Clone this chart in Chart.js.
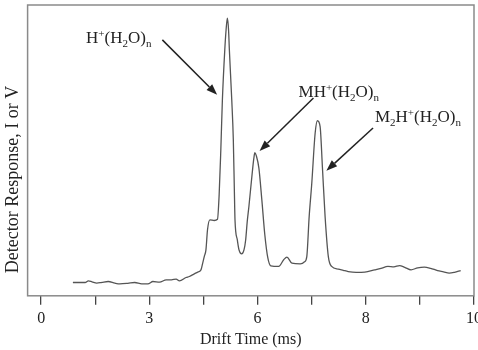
<!DOCTYPE html>
<html>
<head>
<meta charset="utf-8">
<script src="https://cdn.jsdelivr.net/npm/chart.js@4/dist/chart.umd.min.js"></script>
<style>
html, body { margin: 0; padding: 0; background: #fff; }
#wrap { width: 478px; height: 350px; }
</style>
</head>
<body>
<div id="wrap"><canvas id="ims"></canvas></div>
<script>
"use strict";

// 横軸：目盛り1本 = 1単位、ラベルは図のとおり
const xTickValues = [0, 1, 2, 3, 4, 5, 6, 7, 8];
const xTickLabels = ['0', '', '3', '', '6', '', '8', '', '10'];

// スペクトル（x: 目盛り単位, y: フルスケールに対する%）
const driftPos = [
	0.587, 0.813, 0.873, 0.941, 1.028, 1.125, 1.240, 1.363, 1.455, 1.602,
	1.730, 1.859, 1.974, 2.066, 2.189, 2.312, 2.409, 2.495, 2.556, 2.679,
	2.739, 2.831, 2.886, 2.954, 2.983, 3.015, 3.046, 3.075, 3.119, 3.198,
	3.259, 3.290, 3.321, 3.350, 3.394, 3.418, 3.442, 3.464, 3.479, 3.523,
	3.552, 3.571, 3.583, 3.626, 3.657, 3.706, 3.749, 3.780, 3.809, 3.840,
	3.901, 3.932, 3.950, 3.978, 4.024, 4.079, 4.134, 4.189, 4.244, 4.391,
	4.483, 4.543, 4.635, 4.789, 4.868, 4.910, 4.954, 5.002, 5.064, 5.106,
	5.156, 5.198, 5.248, 5.308, 5.369, 5.492, 5.584, 5.675, 5.822, 5.982,
	6.165, 6.281, 6.409, 6.519, 6.624, 6.720, 6.837, 6.959, 7.083, 7.198,
	7.327, 7.437, 7.541, 7.639, 7.754
];
const response = [
	4.57, 4.57, 5.15, 4.81, 4.36, 4.64, 4.91, 4.36, 4.12, 4.30,
	4.57, 4.12, 4.12, 4.91, 4.71, 5.50, 5.50, 5.74, 5.15, 6.29,
	6.63, 7.56, 8.08, 8.93, 11.0, 13.5, 15.8, 22.7, 26.1, 25.9,
	26.3, 34.7, 50.2, 67.4, 84.5, 91.4, 95.5, 91.4, 84.5, 67.4,
	53.6, 36.4, 26.1, 19.2, 15.8, 14.4, 15.8, 19.2, 25.5, 30.7,
	42.2, 47.4, 49.2, 48.1, 44.0, 33.0, 21.0, 13.1, 10.3, 10.1,
	12.4, 13.3, 11.2, 11.0, 11.7, 13.5, 27.3, 38.7, 55.9, 60.2,
	58.2, 44.4, 27.3, 13.5, 10.1, 9.18, 8.76, 8.35, 8.08, 8.14,
	8.93, 9.45, 10.1, 9.97, 10.4, 9.79, 8.93, 9.62, 9.86, 9.45,
	8.69, 8.25, 7.80, 8.08, 8.69
];

// ピークの注記（文字の位置と矢印の始点・終点、データ座標）
const peakText = [
	[{ t: 'H' }, { t: '+', sup: true }, { t: '(H' }, { t: '2', sub: true }, { t: 'O)' }, { t: 'n', sub: true }],
	[{ t: 'MH' }, { t: '+', sup: true }, { t: '(H' }, { t: '2', sub: true }, { t: 'O)' }, { t: 'n', sub: true }],
	[{ t: 'M' }, { t: '2', sub: true }, { t: 'H' }, { t: '+', sup: true }, { t: '(H' }, { t: '2', sub: true }, { t: 'O)' }, { t: 'n', sub: true }]
];
const peakTextPos = [[0.83, 86.9], [4.757, 68.4], [6.17, 59.8]];
const arrowFrom = [[2.24, 88.0], [5.033, 68.0], [6.134, 57.7]];
const arrowTo = [[3.253, 69.1], [4.037, 49.8], [5.272, 43.0]];

const serif = '"Liberation Serif", "DejaVu Serif", serif';

// 枠線
const framePlugin = {
	id: 'frame',
	afterDraw(chart) {
		const a = chart.chartArea;
		const ctx = chart.ctx;
		ctx.save();
		ctx.strokeStyle = '#8a8a8a';
		ctx.lineWidth = 1.5;
		ctx.strokeRect(a.left, a.top, a.right - a.left, a.bottom - a.top);
		ctx.restore();
	}
};

// 注記（化学式と矢印）
const notePlugin = {
	id: 'notes',
	afterDatasetsDraw(chart) {
		const ctx = chart.ctx;
		const xs = chart.scales.x;
		const ys = chart.scales.y;
		ctx.save();
		ctx.fillStyle = '#222';
		ctx.textBaseline = 'alphabetic';
		peakText.forEach(function (parts, i) {
			let px = xs.getPixelForValue(peakTextPos[i][0]);
			const py = ys.getPixelForValue(peakTextPos[i][1]);
			for (const p of parts) {
				let dy = 0;
				if (p.sup || p.sub) {
					ctx.font = '11px ' + serif;
					dy = p.sup ? -6 : 4;
				} else {
					ctx.font = '17px ' + serif;
				}
				ctx.fillText(p.t, px, py + dy);
				px += ctx.measureText(p.t).width;
			}
		});
		ctx.strokeStyle = '#222';
		ctx.lineWidth = 1.5;
		arrowFrom.forEach(function (f, i) {
			const x1 = xs.getPixelForValue(f[0]);
			const y1 = ys.getPixelForValue(f[1]);
			const x2 = xs.getPixelForValue(arrowTo[i][0]);
			const y2 = ys.getPixelForValue(arrowTo[i][1]);
			const ang = Math.atan2(y2 - y1, x2 - x1);
			const len = 11, half = 4;
			const bx = x2 - len * Math.cos(ang);
			const by = y2 - len * Math.sin(ang);
			ctx.beginPath();
			ctx.moveTo(x1, y1);
			ctx.lineTo(bx, by);
			ctx.stroke();
			ctx.beginPath();
			ctx.moveTo(x2, y2);
			ctx.lineTo(bx + half * Math.sin(ang), by - half * Math.cos(ang));
			ctx.lineTo(bx - half * Math.sin(ang), by + half * Math.cos(ang));
			ctx.closePath();
			ctx.fill();
		});
		ctx.restore();
	}
};

window.onload = function () {
	const ctx = document.getElementById('ims').getContext('2d');
	new Chart(ctx, {
		type: 'line',
		data: {
			datasets: [{
				data: driftPos.map((x, i) => ({ x: x, y: response[i] })),
				borderColor: '#555',
				borderWidth: 1.3,
				pointRadius: 0,
				cubicInterpolationMode: 'monotone',
				fill: false
			}]
		},
		options: {
			responsive: true,
			maintainAspectRatio: false,
			animation: false,
			layout: { padding: { left: 1, right: 4, top: 5, bottom: 1 } },
			plugins: {
				legend: { display: false },
				tooltip: { enabled: false }
			},
			scales: {
				x: {
					type: 'linear',
					min: -0.25,
					max: 8,
					afterBuildTicks(scale) {
						scale.ticks = xTickValues.map(v => ({ value: v }));
					},
					afterFit(scale) {
						// 右端の「10」は図と同じくはみ出させる
						scale.paddingRight = 0;
						scale.paddingLeft = 0;
					},
					grid: {
						drawOnChartArea: false,
						drawTicks: true,
						tickLength: 9,
						color: '#444',
						lineWidth: 1.3
					},
					border: { display: false },
					ticks: {
						autoSkip: false,
						maxRotation: 0,
						padding: 8,
						color: '#222',
						font: { family: serif, size: 16, lineHeight: 0.75 },
						callback: function (v) {
							const i = xTickValues.indexOf(v);
							return i >= 0 ? xTickLabels[i] : '';
						}
					},
					title: {
						display: true,
						text: 'Drift Time (ms)',
						color: '#222',
						font: { family: serif, size: 16 },
						padding: { top: -3, bottom: 0 }
					}
				},
				y: {
					min: 0,
					max: 100,
					ticks: { display: false },
					grid: { display: false, drawTicks: false },
					border: { display: false },
					title: {
						display: true,
						align: 'start',
						text: '     Detector Response, I or V',
						color: '#222',
						font: { family: serif, size: 18 },
						padding: { top: 1, bottom: 4 }
					}
				}
			}
		},
		plugins: [framePlugin, notePlugin]
	});
};
</script>
</body>
</html>
